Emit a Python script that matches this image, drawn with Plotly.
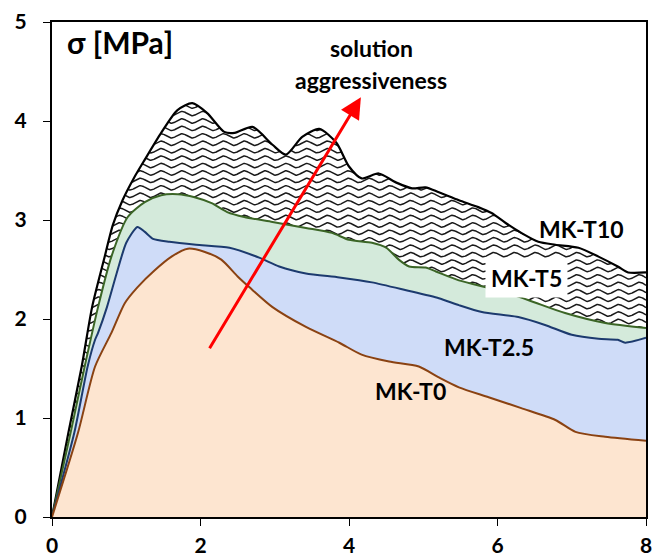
import numpy as np
import plotly.graph_objects as go

# ---- data ----
t10_x = [0, 0.22, 0.40, 0.54, 0.70, 0.82, 0.95, 1.10, 1.25, 1.47, 1.69, 1.89, 2.09, 2.32, 2.46,
         2.70, 2.97, 3.15, 3.37, 3.60, 3.83, 4.00, 4.17, 4.40, 4.63, 4.85, 5.03, 5.21, 5.48,
         5.74, 5.92, 6.11, 6.32, 6.55, 6.78, 7.09, 7.36, 7.62, 7.76, 8.0]
t10_y = [0, 0.85, 1.52, 2.12, 2.60, 2.95, 3.20, 3.42, 3.61, 3.88, 4.11, 4.18, 4.08, 3.89, 3.88,
         3.94, 3.76, 3.66, 3.84, 3.92, 3.78, 3.54, 3.42, 3.47, 3.38, 3.32, 3.33, 3.28, 3.20,
         3.13, 3.07, 2.97, 2.87, 2.78, 2.75, 2.72, 2.63, 2.53, 2.47, 2.47]

t5_x = [0, 0.25, 0.44, 0.62, 0.80, 1.02, 1.25, 1.47, 1.69, 1.92, 2.15, 2.36, 2.59, 2.97, 3.42,
        3.77, 4.00, 4.31, 4.50, 4.67, 4.81, 5.03, 5.17, 5.48, 6.01, 6.42, 6.91, 7.45, 8.0]
t5_y = [0, 0.85, 1.52, 2.12, 2.63, 3.03, 3.18, 3.25, 3.26, 3.23, 3.17, 3.08, 3.03, 2.98, 2.92,
        2.87, 2.80, 2.77, 2.72, 2.60, 2.53, 2.52, 2.48, 2.39, 2.29, 2.19, 2.06, 1.96, 1.91]

t25_x = [0, 0.30, 0.48, 0.58, 0.62, 0.74, 0.87, 1.00, 1.15, 1.25, 1.36, 1.58, 1.94, 2.39, 2.79,
         3.06, 3.42, 3.87, 4.31, 4.77, 5.21, 5.48, 5.79, 6.28, 6.64, 7.00, 7.36, 7.62, 7.72, 8.0]
t25_y = [0, 0.85, 1.52, 1.79, 1.86, 2.12, 2.46, 2.77, 2.93, 2.88, 2.81, 2.78, 2.75, 2.72, 2.62,
         2.53, 2.46, 2.42, 2.37, 2.29, 2.21, 2.14, 2.07, 2.02, 1.94, 1.84, 1.80, 1.79, 1.76, 1.81]

t0_x = [0, 0.35, 0.58, 0.80, 0.98, 1.15, 1.38, 1.61, 1.83, 2.05, 2.28, 2.50, 2.66, 2.97, 3.42,
        3.87, 4.17, 4.54, 4.94, 5.21, 5.48, 5.88, 6.32, 6.78, 7.05, 7.45, 8.0]
t0_y = [0, 0.85, 1.52, 1.86, 2.16, 2.32, 2.49, 2.63, 2.71, 2.68, 2.60, 2.43, 2.32, 2.12, 1.92,
        1.76, 1.64, 1.57, 1.52, 1.41, 1.31, 1.21, 1.10, 0.98, 0.86, 0.81, 0.77]

x_ticks = [0, 2, 4, 6, 8]
y_ticks = [0, 1, 2, 3, 4, 5]

FONT = "Lato"
fig = go.Figure()

# ---- wavy hatch (decoration) ----
wx = np.linspace(0, 8, 800)
hx, hy = [], []
for base in np.arange(-0.05, 4.45, 0.075):
    hx.extend(list(wx) + [None])
    hy.extend(list(base + 0.022 * np.sin(2 * np.pi * wx / 0.28)) + [None])
fig.add_trace(go.Scatter(x=hx, y=hy, mode="lines", line=dict(color="#1a1a1a", width=1.5),
                         hoverinfo="skip", showlegend=False))

# white cover above MK-T10
fig.add_trace(go.Scatter(x=[0, 8], y=[5, 5], mode="lines", line=dict(width=0),
                         showlegend=False, hoverinfo="skip"))
fig.add_trace(go.Scatter(x=t10_x, y=t10_y, mode="lines", fill="tonexty", fillcolor="white",
                         line=dict(color="black", width=2.2, shape="spline", smoothing=0.7),
                         showlegend=False))

fig.add_trace(go.Scatter(x=t5_x, y=t5_y, mode="lines", fill="tozeroy", fillcolor="#d4eadb",
                         line=dict(color="#3b6526", width=2, shape="spline", smoothing=0.7),
                         showlegend=False))
fig.add_trace(go.Scatter(x=t25_x, y=t25_y, mode="lines", fill="tozeroy", fillcolor="#cfdcf8",
                         line=dict(color="#1c3a6e", width=2, shape="spline", smoothing=0.6),
                         showlegend=False))
fig.add_trace(go.Scatter(x=t0_x, y=t0_y, mode="lines", fill="tozeroy", fillcolor="#fde5d0",
                         line=dict(color="#8a4212", width=2, shape="spline", smoothing=0.7),
                         showlegend=False))

lab = dict(family=FONT, size=23, color="black", weight="bold")
annots = [
    dict(x=0.17, y=4.80, text="σ [MPa]", xanchor="left", yanchor="middle",
         font=dict(family=FONT, size=30, color="black", weight="bold")),
    dict(x=4.30, y=4.74, text="solution", font=lab),
    dict(x=4.30, y=4.41, text="aggressiveness", font=lab),
    dict(x=7.13, y=2.91, text="MK-T10", font=lab),
    dict(x=6.39, y=2.41, text="MK-T5", font=lab, bgcolor="white", borderpad=5),
    dict(x=5.88, y=1.72, text="MK-T2.5", font=lab),
    dict(x=4.83, y=1.27, text="MK-T0", font=lab),
]
for a in annots:
    fig.add_annotation(xref="x", yref="y", showarrow=False, **a)

fig.add_annotation(xref="x", yref="y", axref="x", ayref="y", x=4.16, y=4.24, ax=2.11, ay=1.69,
                   text="", showarrow=True, arrowhead=2, arrowsize=1.4, arrowwidth=3,
                   arrowcolor="#ff0000", standoff=0)

axis_common = dict(showgrid=False, zeroline=False, showline=True, linecolor="black",
                   linewidth=2, mirror=True, ticks="outside", ticklen=7, tickwidth=1,
                   tickcolor="black", ticklabeloverflow="allow",
                   tickfont=dict(family=FONT, size=21, color="black", weight="bold"))
fig.update_xaxes(range=[0, 8], tickvals=x_ticks, ticktext=[str(v) for v in x_ticks],
                 ticklabelstandoff=2, **axis_common)
fig.update_yaxes(range=[0, 5], tickvals=y_ticks, ticktext=[str(v) for v in y_ticks],
                 ticklabelstandoff=12, **axis_common)

fig.update_layout(width=652, height=560, margin=dict(l=52, r=6, t=22, b=43),
                  plot_bgcolor="white", paper_bgcolor="white", template="none",
                  showlegend=False)

fig.write_html("out.html")
